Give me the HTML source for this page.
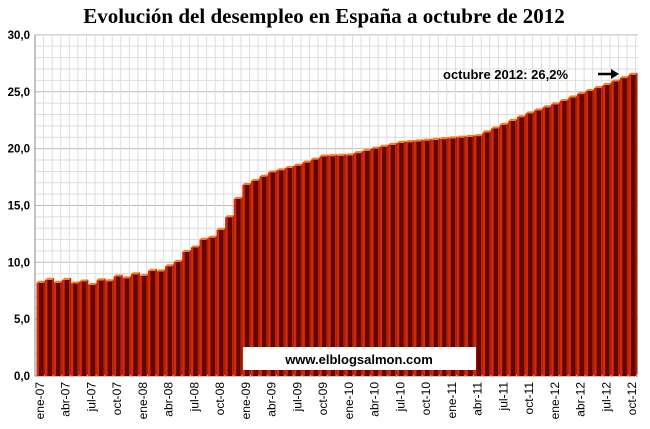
<!DOCTYPE html>
<html><head><meta charset="utf-8"><style>
body{margin:0;background:#fff;width:650px;height:429px;overflow:hidden}
svg{display:block}
</style></head><body>
<svg id="s" width="650" height="429" xmlns="http://www.w3.org/2000/svg" font-family="Liberation Sans, Arial, sans-serif">
<text x="324" y="23" text-anchor="middle" font-family="Liberation Serif, serif" font-weight="bold" font-size="21">Evolución del desempleo en España a octubre de 2012</text>
<g id="grid"></g>
<g id="bars"></g>
<g id="lab" font-weight="bold" font-size="11.5"></g>
<rect x="243" y="347" width="233" height="23" fill="#fff"/>
<text x="359" y="364" text-anchor="middle" font-weight="bold" font-size="13">www.elblogsalmon.com</text>
<text x="443" y="79" font-weight="bold" font-size="13">octubre 2012: 26,2%</text>
<line x1="598" y1="74" x2="612" y2="74" stroke="#000" stroke-width="2.5"/>
<polygon points="611,69 619,74 611,79" fill="#000"/>
</svg>
<script>
(function(){
var NS="http://www.w3.org/2000/svg";
function el(p,t,a){var e=document.createElementNS(NS,t);for(var k in a)e.setAttribute(k,a[k]);p.appendChild(e);return e;}
var g=document.getElementById('grid'),b=document.getElementById('bars'),l=document.getElementById('lab');
var x0=35,x1=638,y0=376,sc=11.37;
for(var v=0;v<=30;v++){var y=y0-v*sc;el(g,'line',{x1:x0,x2:x1,y1:y,y2:y,stroke:v%5==0?'#bbb':'#ddd','stroke-width':1});}
for(var x=x0;x<=x1;x+=8.58){el(g,'line',{x1:x,x2:x,y1:y0-30*sc,y2:y0,stroke:'#ddd','stroke-width':1});}
el(g,'line',{x1:x0,x2:x0,y1:y0-30*sc,y2:y0,stroke:'#888'});
el(g,'line',{x1:x0,x2:x1,y1:y0,y2:y0,stroke:'#888'});
for(var v=0;v<=30;v+=5){var t=el(l,'text',{x:30,y:y0-v*sc+4,'text-anchor':'end'});t.textContent=v+',0';}
var anc=[8.3,8.3,8.1,8.6,8.9,9.5,11.4,12.7,16.8,17.9,18.5,19.3,19.4,20.0,20.5,20.7,20.9,21.1,22.1,23.1,23.9,24.8,25.6,26.5];
var vals=[];
for(var i=0;i<70;i++){var k=Math.floor(i/3),f=(i%3)/3;var a=anc[k],c=anc[Math.min(k+1,23)];
 var v=a+(c-a)*f; if(i<24) v+=(i%2?0.15:-0.1); vals.push(v);}
var names=['ene','abr','jul','oct'];
for(var i=0;i<vals.length;i++){
 var cx=40+i*8.58,h=vals[i]*sc,ty=y0-h,w=7,L=cx-3.5;
 el(b,'rect',{x:L,y:ty,width:w,height:h,fill:'#650500'});
 el(b,'rect',{x:L,y:ty,width:2.4,height:h,fill:'#d42a0a'});
 el(b,'polygon',{points:L+','+ty+' '+(L+2)+','+(ty-2)+' '+(L+w+2)+','+(ty-2)+' '+(L+w)+','+ty,fill:'#ff7a1a'});
 el(b,'polygon',{points:(L+w)+','+ty+' '+(L+w+2)+','+(ty-2)+' '+(L+w+2)+','+(y0-2)+' '+(L+w)+','+y0,fill:'#b01c04'});
 if(i%3==0){var yr=7+Math.floor(i/12),m=names[(i%12)/3];
  var t=el(l,'text',{transform:'translate('+(cx+4)+',382) rotate(-90)','text-anchor':'end','font-weight':'normal','font-size':'12'});
  t.textContent=m+'-'+(yr<10?'0'+yr:yr);}
}
})();
</script>
</body></html>
